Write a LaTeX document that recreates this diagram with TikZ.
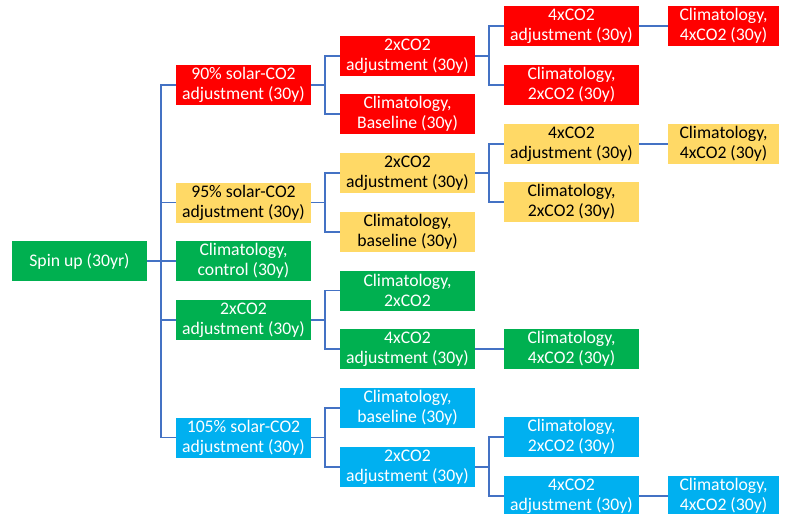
\documentclass[tikz,border=0pt]{standalone}
\usepackage{fontspec}
\setmainfont{Carlito}
\definecolor{cred}{HTML}{FF0000}
\definecolor{cyel}{HTML}{FFD966}
\definecolor{cgrn}{HTML}{00B050}
\definecolor{cblu}{HTML}{00B0F0}
\definecolor{cline}{HTML}{4472C4}
\tikzset{
  box/.style={minimum width=135pt, minimum height=40pt, inner sep=0pt, align=center,
    font=\fontsize{17.7pt}{20pt}\selectfont},
  nbox/.style={box, minimum width=111pt},
  rbox/.style={fill=cred, text=white},
  ybox/.style={fill=cyel, text=black},
  gbox/.style={fill=cgrn, text=white},
  bbox/.style={fill=cblu, text=white},
  conn/.style={draw=cline, line width=1.1pt}
}
\begin{document}
\begin{tikzpicture}[x=1pt,y=-1pt]
\useasboundingbox (0,0) rectangle (793,514);
% column 1
\node[box,gbox] (spin) at (79.5,261) {Spin up (30yr)};
% column 2
\node[box,rbox] (r90) at (243.5,85) {90\% solar-CO2\\adjustment (30y)};
\node[box,ybox] (y95) at (243.5,202.5) {95\% solar-CO2\\adjustment (30y)};
\node[box,gbox] (gctl) at (243.5,261) {Climatology,\\control (30y)};
\node[box,gbox] (g2x) at (243.5,320) {2xCO2\\adjustment (30y)};
\node[box,bbox] (b105) at (243.5,437.5) {105\% solar-CO2\\adjustment (30y)};
% column 3
\node[box,rbox] (r2x) at (407.5,56) {2xCO2\\adjustment (30y)};
\node[box,rbox] (rbase) at (407.5,114) {Climatology,\\Baseline (30y)};
\node[box,ybox] (y2x) at (407.5,173) {2xCO2\\adjustment (30y)};
\node[box,ybox] (ybase) at (407.5,232) {Climatology,\\baseline (30y)};
\node[box,gbox] (gcl2) at (407.5,290.5) {Climatology,\\2xCO2};
\node[box,gbox] (g4x) at (407.5,349) {4xCO2\\adjustment (30y)};
\node[box,bbox] (bbase) at (407.5,408) {Climatology,\\baseline (30y)};
\node[box,bbox] (b2x) at (407.5,467) {2xCO2\\adjustment (30y)};
% column 4
\node[box,rbox] (r4x) at (571.5,26) {4xCO2\\adjustment (30y)};
\node[box,rbox] (rcl2) at (571.5,85) {Climatology,\\2xCO2 (30y)};
\node[box,ybox] (y4x) at (571.5,144) {4xCO2\\adjustment (30y)};
\node[box,ybox] (ycl2) at (571.5,202) {Climatology,\\2xCO2 (30y)};
\node[box,gbox] (gcl4) at (571.5,349) {Climatology,\\4xCO2 (30y)};
\node[box,bbox] (bcl2) at (571.5,437) {Climatology,\\2xCO2 (30y)};
\node[box,bbox] (b4x) at (571.5,496) {4xCO2\\adjustment (30y)};
% column 5
\node[nbox,rbox] (rcl4) at (723.5,26) {Climatology,\\4xCO2 (30y)};
\node[nbox,ybox] (ycl4) at (723.5,144) {Climatology,\\4xCO2 (30y)};
\node[nbox,bbox] (bcl4) at (723.5,496) {Climatology,\\4xCO2 (30y)};
% trunks
\coordinate (t0) at (161,261);
\coordinate (t90) at (325,85);
\coordinate (t95) at (325,202.5);
\coordinate (tg2) at (325,320);
\coordinate (t105) at (325,437.5);
\coordinate (tr2) at (489,56);
\coordinate (ty2) at (489,173);
\coordinate (tb2) at (489,467);
% connectors
\foreach \c in {r90,y95,gctl,g2x,b105} \draw[conn] (spin.east) -- (t0) |- (\c.west);
\foreach \c in {r2x,rbase} \draw[conn] (r90.east) -- (t90) |- (\c.west);
\foreach \c in {y2x,ybase} \draw[conn] (y95.east) -- (t95) |- (\c.west);
\foreach \c in {gcl2,g4x} \draw[conn] (g2x.east) -- (tg2) |- (\c.west);
\foreach \c in {bbase,b2x} \draw[conn] (b105.east) -- (t105) |- (\c.west);
\foreach \c in {r4x,rcl2} \draw[conn] (r2x.east) -- (tr2) |- (\c.west);
\foreach \c in {y4x,ycl2} \draw[conn] (y2x.east) -- (ty2) |- (\c.west);
\foreach \c in {bcl2,b4x} \draw[conn] (b2x.east) -- (tb2) |- (\c.west);
\draw[conn] (r4x.east) -- (rcl4.west);
\draw[conn] (y4x.east) -- (ycl4.west);
\draw[conn] (g4x.east) -- (gcl4.west);
\draw[conn] (b4x.east) -- (bcl4.west);
\end{tikzpicture}
\end{document}
